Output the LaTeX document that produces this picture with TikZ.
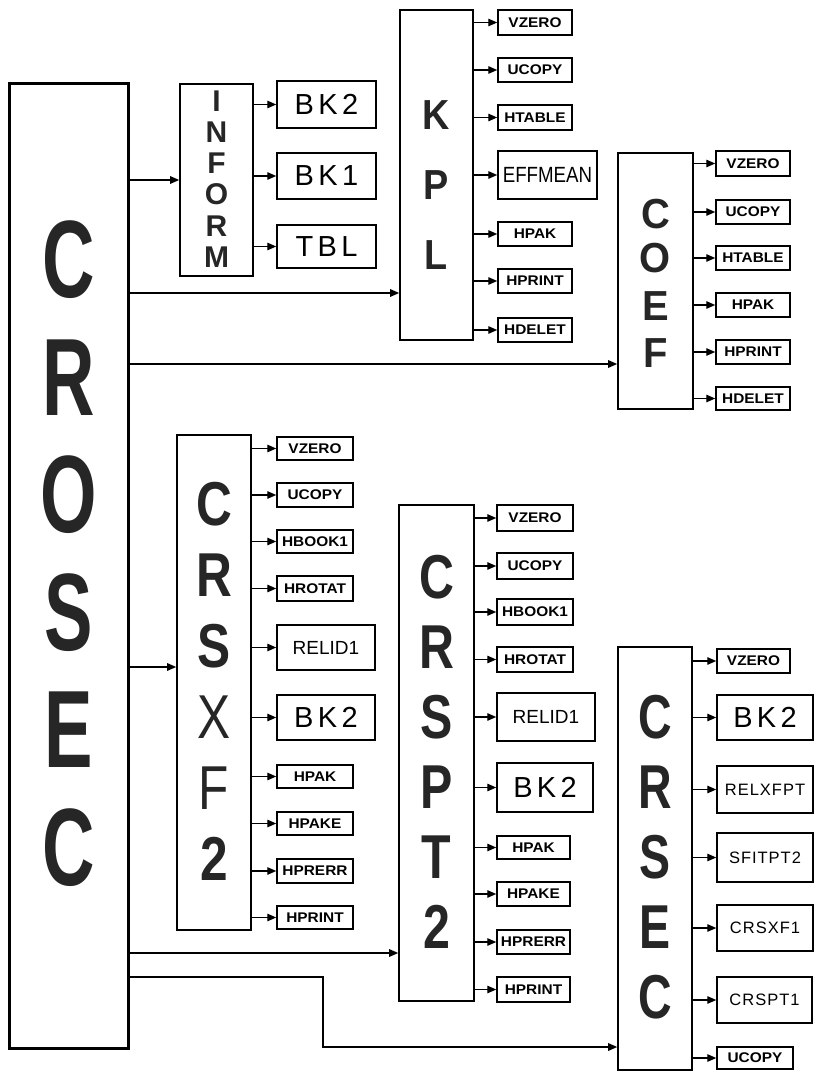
\documentclass[tikz,border=0pt]{standalone}
\usepackage{fontspec}
\usepackage{graphicx}
\setmainfont{Liberation Sans}
\newfontfamily\lblfont[FakeStretch=1.1]{Liberation Sans}
\newfontfamily\widefont[LetterSpace=15]{Liberation Sans}
\newfontfamily\midfont[LetterSpace=6]{Liberation Sans}
\usetikzlibrary{arrows.meta}
\newcommand\sx[2]{\scalebox{#1}[1]{#2}}
\tikzset{
 pbox/.style={draw, line width=1.6pt, inner sep=0pt},
 mainbox/.style={draw, line width=3pt, inner sep=0pt},
 sbox/.style={draw, line width=1.5pt, inner sep=0pt, minimum width=74pt, minimum height=24pt, font=\lblfont\fontsize{14}{14}\selectfont\bfseries},
 bbox/.style={draw, line width=1.5pt, inner sep=0pt, minimum width=99pt, minimum height=46pt, font=\widefont\fontsize{29}{29}\selectfont},
 rbox/.style={draw, line width=1.5pt, inner sep=0pt, minimum width=98pt, minimum height=46pt, font=\fontsize{19}{19}\selectfont},
 mbox/.style={draw, line width=1.5pt, inner sep=0pt, minimum width=96pt, minimum height=47pt, font=\midfont\fontsize{16.5}{16.5}\selectfont},
 ebox/.style={draw, line width=1.5pt, inner sep=0pt, minimum width=99pt, minimum height=48pt, font=\fontsize{22}{22}\selectfont},
 arr/.style={-{Triangle[length=9pt,width=7.5pt]}, line width=1.4pt},
 bigl/.style={inner sep=0pt, text=black!85},
}
\begin{document}
\begin{tikzpicture}[x=1pt,y=-1pt]
\fill[white] (0,0) rectangle (815,1073);
\useasboundingbox (0,0) rectangle (815,1073);

% ---------------- CROSEC
\node[mainbox, minimum width=119pt, minimum height=965pt] (crosec) at (68.5,565.5) {};
\foreach \l/\y [count=\i] in {C/260,R/378,O/495,S/613,E/730,C/848}
  \node[bigl, font=\fontsize{110}{110}\selectfont\bfseries] (crosecL\i) at (68.5,\y) {\sx{0.66}{\l}};

% ---------------- INFORM
\node[pbox, minimum width=73pt, minimum height=192pt] (inform) at (216.5,180) {};
\foreach \l/\y [count=\i] in {I/101,N/132,F/163,O/194,R/226,M/257}
  \node[bigl, font=\fontsize{30}{30}\selectfont\bfseries] (informL\i) at (216.5,\y) {\l};
\node[bbox, minimum height=47pt] (ibk2) at (326.5,104.5) {BK2};
\node[bbox] (ibk1) at (326.5,176) {BK1};
\node[bbox, minimum height=43pt] (itbl) at (326.5,246.5) {TBL};
\foreach \n in {ibk2,ibk1,itbl} \draw[arr] (inform.east |- \n.west) -- (\n.west);

% ---------------- KPL
\node[pbox, minimum width=73pt, minimum height=330pt] (kpl) at (436.5,175) {};
\foreach \l/\y [count=\i] in {K/115,P/185,L/255}
  \node[bigl, font=\fontsize{42}{42}\selectfont\bfseries] (kplL\i) at (436.5,\y) {\sx{0.9}{\l}};
\node[sbox, minimum height=25pt] (kv) at (535,22.5) {VZERO};
\node[sbox] (ku) at (535,70) {UCOPY};
\node[sbox, minimum height=25pt] (kh) at (535,117.5) {HTABLE};
\node[ebox] (ke) at (547.5,175) {\sx{0.85}{EFFMEAN}};
\node[sbox] (kp) at (535,234) {HPAK};
\node[sbox] (kpr) at (535,281) {HPRINT};
\node[sbox] (kd) at (535,330) {HDELET};
\foreach \n in {kv,ku,kh,ke,kp,kpr,kd} \draw[arr] (kpl.east |- \n.west) -- (\n.west);

% ---------------- COEF
\node[pbox, minimum width=75pt, minimum height=256pt] (coef) at (655.5,281) {};
\foreach \l/\y [count=\i] in {C/214,O/258,E/306,F/353}
  \node[bigl, font=\fontsize{42}{42}\selectfont\bfseries] (coefL\i) at (655.5,\y) {\sx{0.95}{\l}};
\node[sbox, minimum height=25pt] (cv) at (753,163.5) {VZERO};
\node[sbox] (cu) at (753,212) {UCOPY};
\node[sbox] (ch) at (753,258) {HTABLE};
\node[sbox] (cp) at (753,305) {HPAK};
\node[sbox] (cpr) at (753,352) {HPRINT};
\node[sbox, minimum height=23pt] (cd) at (753,398.5) {HDELET};
\foreach \n in {cv,cu,ch,cp,cpr,cd} \draw[arr] (coef.east |- \n.west) -- (\n.west);

% ---------------- CRSXF2
\node[pbox, minimum width=74pt, minimum height=495pt] (crsxf) at (214,682.5) {};
\foreach \l/\y/\w [count=\i] in {C/504/\bfseries,R/575/\bfseries,S/646/\bfseries,X/717/\mdseries,F/788/\mdseries,2/859/\bfseries}
  \node[bigl, font=\fontsize{62}{62}\selectfont\w] (crsxfL\i) at (214,\y) {\sx{0.8}{\l}};
\node[sbox, minimum width=76pt, minimum height=23pt] (xv) at (315,448.5) {VZERO};
\node[sbox, minimum width=76pt] (xu) at (315,495) {UCOPY};
\node[sbox, minimum width=76pt, minimum height=23pt] (xb) at (315,541.5) {HBOOK1};
\node[sbox, minimum width=76pt, minimum height=25pt] (xr) at (315,588.5) {HROTAT};
\node[rbox, minimum height=45pt] (xrel) at (326,647.5) {RELID1};
\node[bbox, minimum width=98pt, minimum height=45pt] (xbk) at (326,717.5) {BK2};
\node[sbox, minimum width=76pt, minimum height=23pt] (xp) at (315,776.5) {HPAK};
\node[sbox, minimum width=76pt, minimum height=23pt] (xpe) at (315,823.5) {HPAKE};
\node[sbox, minimum width=76pt] (xpr) at (315,871) {HPRERR};
\node[sbox, minimum width=76pt, minimum height=23pt] (xpi) at (315,917.5) {HPRINT};
\foreach \n in {xv,xu,xb,xr,xrel,xbk,xp,xpe,xpr,xpi} \draw[arr] (crsxf.east |- \n.west) -- (\n.west);

% ---------------- CRSPT2
\node[pbox, minimum width=75pt, minimum height=496pt] (crspt) at (436.5,753) {};
\foreach \l/\y [count=\i] in {C/577,R/647,S/717,P/787,T/857,2/927}
  \node[bigl, font=\fontsize{62}{62}\selectfont\bfseries] (crsptL\i) at (436.5,\y) {\sx{0.78}{\l}};
\node[sbox, minimum width=76pt, minimum height=26pt] (tv) at (535,518) {VZERO};
\node[sbox, minimum width=76pt, minimum height=26pt] (tu) at (535,566) {UCOPY};
\node[sbox, minimum width=76pt, minimum height=26pt] (tb) at (535,612) {HBOOK1};
\node[sbox, minimum width=76pt, minimum height=25pt] (tr) at (535,659.5) {HROTAT};
\node[rbox, minimum height=48pt] (trel) at (546,717) {RELID1};
\node[bbox, minimum width=96pt, minimum height=49pt] (tbk) at (545,787.5) {BK2};
\node[sbox, minimum width=73pt, minimum height=23pt] (tp) at (533.5,847.5) {HPAK};
\node[sbox, minimum width=73pt] (tpe) at (533.5,894) {HPAKE};
\node[sbox, minimum width=73pt] (tpr) at (533.5,942) {HPRERR};
\node[sbox, minimum width=73pt, minimum height=25pt] (tpi) at (533.5,989.5) {HPRINT};
\foreach \n in {tv,tu,tb,tr,trel,tbk,tp,tpe,tpr,tpi} \draw[arr] (crspt.east |- \n.west) -- (\n.west);

% ---------------- CRSEC
\node[pbox, minimum width=74pt, minimum height=423pt] (crsec) at (655,858.5) {};
\foreach \l/\y [count=\i] in {C/717,R/787,S/857,E/927,C/997}
  \node[bigl, font=\fontsize{62}{62}\selectfont\bfseries] (crsecL\i) at (655,\y) {\sx{0.75}{\l}};
\node[sbox, minimum width=73pt] (ev) at (753.5,661) {VZERO};
\node[bbox, minimum width=96pt, minimum height=45pt] (ebk) at (765,717.5) {BK2};
\node[mbox] (erel) at (765,789.5) {RELXFPT};
\node[mbox, minimum height=49pt] (esf) at (765,857.5) {SFITPT2};
\node[mbox, minimum height=46pt] (ecx) at (765,928) {CRSXF1};
\node[mbox, minimum width=95pt, minimum height=46pt] (ecp) at (764.5,1000) {CRSPT1};
\node[sbox, minimum width=76pt, minimum height=22pt] (eu) at (755,1058) {UCOPY};
\foreach \n in {ev,ebk,erel,esf,ecx,ecp,eu} \draw[arr] (crsec.east |- \n.west) -- (\n.west);

% ---------------- CROSEC connectors
\draw[arr] (crosec.east |- inform.west) -- (inform.west);
\draw[arr] (crosec.east |- 0,293) -- (kpl.west |- 0,293);
\draw[arr] (crosec.east |- 0,364) -- (coef.west |- 0,364);
\draw[arr] (crosec.east |- 0,667) -- (crsxf.west |- 0,667);
\draw[arr] (crosec.east |- 0,953) -- (crspt.west |- 0,953);
\coordinate (bend) at (323,1047);
\draw[arr] (crosec.east |- 0,977) -| (bend) -- (crsec.west |- bend);
\end{tikzpicture}
\end{document}
